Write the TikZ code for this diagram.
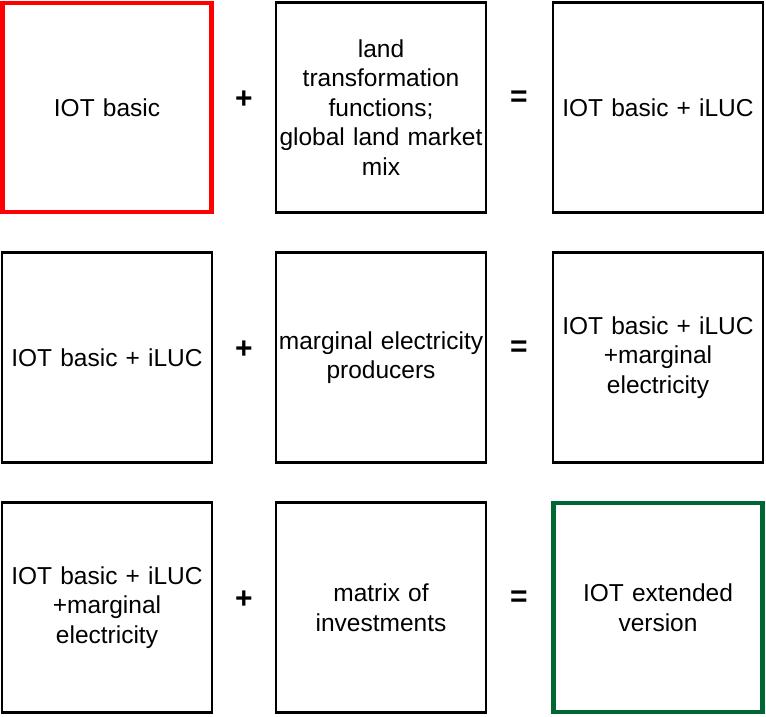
\documentclass[tikz,border=0pt]{standalone}
\usepackage{fontspec}
\setmainfont{Liberation Sans}
\usepackage{tikz}
\usetikzlibrary{positioning}
\definecolor{startred}{RGB}{255,0,0}
\definecolor{endgreen}{RGB}{0,102,51}
\tikzstyle{block} = [draw=black, line width=2.2pt, minimum width=210pt, minimum height=210pt,
                     inner sep=0pt, text width=206pt, align=center,
                     font=\fontsize{24.5}{29.5}\selectfont]
\tikzstyle{startblock} = [block, draw=startred, line width=4.6pt, minimum width=209pt, minimum height=209pt]
\tikzstyle{endblock} = [block, draw=endgreen, line width=4.6pt, minimum width=209pt, minimum height=209pt]
\tikzstyle{sign} = [inner sep=0pt, font=\fontsize{30}{36}\selectfont\bfseries]

\begin{document}
\begin{tikzpicture}[x=1pt, y=-1pt]
				\useasboundingbox (0, 0) rectangle (766, 716);

				% first step: land use change
				\node (Basic) [startblock] at (107, 107.5) {IOT basic};
				\node (PlusA) [sign] at (244, 100) {+};
				\node (LandFn) [block] at (381, 107.5) {land\\transformation\\functions;\\global land market\\mix};
				\node (EqA) [sign] at (519, 99) {=};
				\node (BasicLuc) [block] at (658, 107.5) {IOT basic + iLUC};

				% second step: marginal electricity
				\node (BasicLucIn) [block] at (107, 357.5) {IOT basic + iLUC};
				\node (PlusB) [sign] at (244, 350) {+};
				\node (Elec) [block] at (381, 357.5) {marginal electricity\\producers};
				\node (EqB) [sign] at (519, 349) {=};
				\node (LucElec) [block] at (658, 357.5) {IOT basic + iLUC\\+marginal\\electricity};

				% third step: investments
				\node (LucElecIn) [block] at (107, 607.5) {IOT basic + iLUC\\+marginal\\electricity};
				\node (PlusC) [sign] at (244, 600) {+};
				\node (Invest) [block] at (381, 607.5) {matrix of\\investments};
				\node (EqC) [sign] at (519, 599) {=};
				\node (Extended) [endblock] at (658, 607.5) {IOT extended\\version};
\end{tikzpicture}
\end{document}
